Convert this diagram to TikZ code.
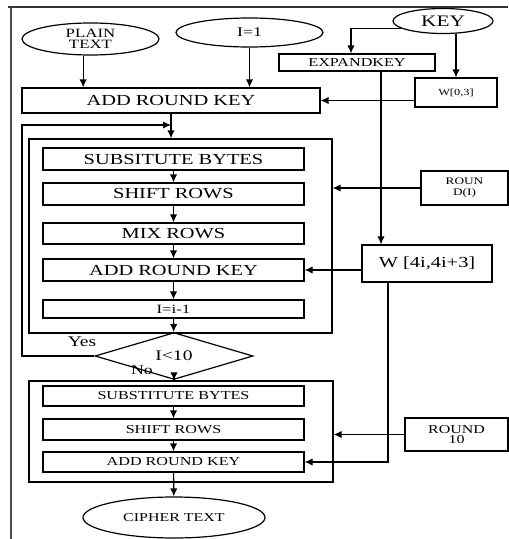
\documentclass[tikz,border=0pt]{standalone}
\usepackage{fontspec}
\setmainfont[FakeStretch=1.33]{Liberation Serif}
\usetikzlibrary{arrows.meta,shapes.geometric}

\tikzset{
  box/.style={draw, rectangle, inner sep=0pt, line width=0.9pt},
  oval/.style={draw, ellipse, inner sep=0pt, line width=0.9pt},
  arr/.style={-{Latex[length=6pt,width=5.5pt]}, line width=0.9pt},
  big/.style={font=\fontsize{11.5}{12}\selectfont},
  small/.style={font=\fontsize{9.1}{9.5}\selectfont},
}

\begin{document}
\begin{tikzpicture}[x=0.75pt,y=0.75pt,yscale=-1,xscale=1]
\useasboundingbox (0,0) rectangle (508,539);

%Page frame
\draw [line width=1.2pt, black!80] (8,7) -- (508,7) ;
\draw [line width=1.2pt, black!70] (11,7) -- (11,539) ;

%Shape: Ellipse [plain text]
\node [oval, minimum width=102.75pt, minimum height=24pt, align=center, font=\fontsize{9.5}{8}\selectfont] (plain) at (90.5,39) {PLAIN\\TEXT};
%Shape: Ellipse [i=1]
\node [oval, minimum width=110.25pt, minimum height=21.75pt, font=\fontsize{10}{10}\selectfont] (ione) at (249.5,32.5) {I=1};
%Shape: Ellipse [key]
\node [oval, minimum width=75pt, minimum height=18.75pt, font=\fontsize{12}{12}\selectfont] (key) at (443,21) {KEY};
%Shape: Rectangle [expandkey]
\node [box, small, minimum width=117pt, minimum height=12.75pt] (expand) at (357,62.5) {EXPANDKEY};
%Shape: Rectangle [w(0,3)]
\node [box, minimum width=61.5pt, minimum height=21.75pt, font=\fontsize{7}{7}\selectfont] (wzero) at (456,92.5) {W[0,3]};
%Shape: Rectangle [first add round key]
\node [box, big, minimum width=223.5pt, minimum height=18.75pt] (ark1) at (171,100.5) {ADD ROUND KEY};

%Shape: Rectangle [round loop]
\node [box, minimum width=227.25pt, minimum height=145.5pt] (loopbox) at (180.5,236) {};
\node [box, big, minimum width=195.75pt, minimum height=16.5pt] (sub1) at (173.5,159) {SUBSITUTE BYTES};
\node [box, big, minimum width=195.75pt, minimum height=16.5pt] (shift1) at (173.5,194) {SHIFT ROWS};
\node [box, big, minimum width=195.75pt, minimum height=15.75pt] (mix) at (173.5,233.5) {MIX ROWS};
\node [box, big, minimum width=195.75pt, minimum height=16.5pt] (ark2) at (173.5,270) {ADD ROUND KEY};
\node [box, minimum width=195.75pt, minimum height=13.5pt, font=\fontsize{9.5}{10}\selectfont] (dec) at (173.5,309) {I=i-1};

%Shape: Diamond [test]
\node [draw, diamond, inner sep=0pt, line width=0.9pt, minimum width=118.5pt, minimum height=25.5pt, font=\fontsize{11}{11}\selectfont] (cond) at (174,356) {I<10};
% Text Node
\node [font=\fontsize{11}{11}\selectfont] (yes) at (82,342) {Yes};
% Text Node
\node [font=\fontsize{10}{10}\selectfont] (no) at (142,370) {No};

%Shape: Rectangle [final round]
\node [box, minimum width=228pt, minimum height=75.75pt] (finbox) at (181,431.5) {};
\node [box, small, minimum width=195.75pt, minimum height=15pt] (sub2) at (173.5,396) {SUBSTITUTE BYTES};
\node [box, small, minimum width=195.75pt, minimum height=15.75pt] (shift2) at (173.5,429.5) {SHIFT ROWS};
\node [box, small, minimum width=195.75pt, minimum height=15pt] (ark3) at (173.5,462) {ADD ROUND KEY};

%Shape: Ellipse [cipher text]
\node [oval, minimum width=136.5pt, minimum height=30.75pt, font=\fontsize{9}{9}\selectfont] (cipher) at (174,517.5) {CIPHER TEXT};

%Shape: Rectangle [round keys]
\node [box, minimum width=65.25pt, minimum height=25.5pt, align=center, font=\fontsize{7.5}{8.5}\selectfont] (roun) at (464.5,188) {ROUN\\D(I)};
\node [box, big, minimum width=97.5pt, minimum height=27.75pt] (w4i) at (427,263.5) {W [4i,4i+3]};
\node [box, minimum width=77.25pt, minimum height=24.75pt, align=center, font=\fontsize{9}{7.5}\selectfont] (round10) at (456.5,434.5) {ROUND\\10};

%Helper coordinates
\coordinate (fbx) at (22,125);
\coordinate (kx) at (381,0);
\coordinate (wx) at (388,0);

%Straight Lines
\draw [arr] ([xshift=-5.5pt]plain.south) -- ([xshift=-5.5pt]plain.south |- ark1.north) ;
\draw [arr] (ione.south) -- (ione.south |- ark1.north) ;
\draw [arr] (key.190) -| ([xshift=-4.5pt]expand.north) ;
\draw [arr] (wzero.north |- key.south) -- (wzero.north) ;
\draw [arr] (wzero.west |- ark1.east) -- (ark1.east) ;
\draw [arr] (expand.south -| kx) -- (w4i.north -| kx) ;
\draw [arr] (ark1.south) -- (ark1.south |- loopbox.north) ;
\draw [arr] (cond.west) -| (fbx) -- (fbx -| ark1.south) ;
\draw [arr] (sub1) -- (shift1) ;
\draw [arr] (shift1) -- (mix) ;
\draw [arr] (mix) -- (ark2) ;
\draw [arr] (ark2) -- (dec) ;
\draw [arr] (dec) -- (cond) ;
\draw [arr] (cond) -- (cond.south |- finbox.north) ;
\draw [arr] (sub2) -- (shift2) ;
\draw [arr] (shift2) -- (ark3) ;
\draw [arr] (ark3) -- (cipher) ;
\draw [arr] (roun.west) -- (roun.west -| loopbox.east) ;
\draw [arr] (w4i.west |- ark2.east) -- (ark2.east) ;
\draw [arr] (w4i.south -| wx) |- (ark3.east) ;
\draw [arr] (round10.west) -- (round10.west -| finbox.east) ;

\end{tikzpicture}
\end{document}
